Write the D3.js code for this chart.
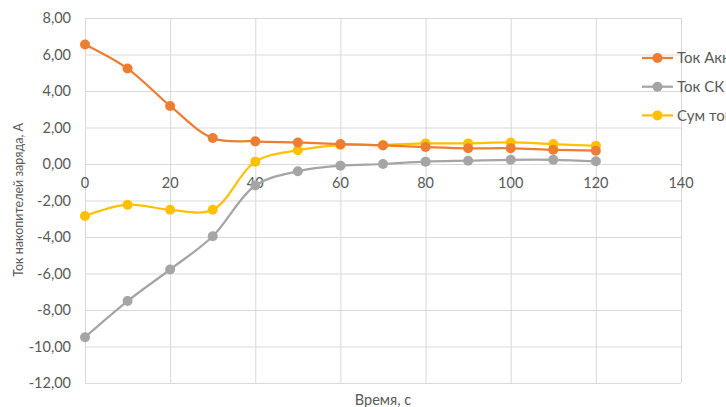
<!DOCTYPE html>
<html><head><meta charset="utf-8">
<script src="https://cdn.jsdelivr.net/npm/d3@7"></script>
<style>body{margin:0;background:#fff;overflow:hidden}svg{display:block}text{font-family:Lato,"Open Sans",sans-serif}</style>
</head><body>
<script>
const times = [0,10,20,30,40,50,60,70,80,90,100,110,120];
const tokAkk = [6.55,5.23,3.18,1.42,1.24,1.18,1.09,1.02,0.93,0.86,0.86,0.78,0.73];
const tokSK  = [-9.49,-7.51,-5.78,-3.96,-1.18,-0.40,-0.09,0.00,0.13,0.18,0.23,0.23,0.15];
const sumTok = [-2.85,-2.23,-2.51,-2.51,0.13,0.76,1.04,1.04,1.13,1.13,1.18,1.09,1.00];
const seriesNames = ["Ток Акк","Ток СК","Сум ток"];
const seriesColors = ["#ED7D31","#A5A5A5","#FFC000"];
const xTicks = [0,20,40,60,80,100,120,140];
const yTicks = [-12,-10,-8,-6,-4,-2,0,2,4,6,8];
const yTitle = "Ток накопителей заряда, А";
const xTitle = "Время,  с";

const W=726,H=407;
const svg=d3.select("body").append("svg").attr("width",W).attr("height",H);
const x=d3.scaleLinear().domain([0,140]).range([85,681]);
const y=d3.scaleLinear().domain([-12,8]).range([383,18]);
const fmt=v=>d3.format(".2f")(v).replace(".",",").replace("−","-");

// grid
svg.append("g").selectAll("line").data(yTicks).join("line")
  .attr("x1",x(0)).attr("x2",x(140)).attr("y1",d=>y(d)+0.5).attr("y2",d=>y(d)+0.5)
  .attr("stroke","#D9D9D9").attr("stroke-width",1);
svg.append("g").selectAll("line").data(xTicks).join("line")
  .attr("y1",y(8)).attr("y2",y(-12)).attr("x1",d=>x(d)+0.5).attr("x2",d=>x(d)+0.5)
  .attr("stroke","#D9D9D9").attr("stroke-width",1);

// y tick labels
svg.append("g").selectAll("text").data(yTicks).join("text")
  .attr("x",71).attr("y",d=>y(d)).attr("dy","0.35em").attr("text-anchor","end")
  .attr("font-size",14.5).attr("fill","#595959").text(fmt);
// x tick labels (axis crosses at 0)
svg.append("g").selectAll("text").data(xTicks).join("text")
  .attr("x",d=>x(d)).attr("y",y(0)+19).attr("dy","0.35em").attr("text-anchor","middle")
  .attr("font-size",14.5).attr("fill","#595959").text(d=>d);

// titles
svg.append("text").attr("transform",`translate(19,200) rotate(-90)`).attr("text-anchor","middle")
  .attr("dy","0.35em").attr("font-size",12.5).attr("fill","#595959").text(yTitle);
svg.append("text").attr("x",383).attr("y",400).attr("dy","0.35em").attr("text-anchor","middle")
  .attr("font-size",14.5).attr("fill","#595959").text(xTitle);

const allSeries=[tokAkk,tokSK,sumTok];
const line=d3.line().x((d,i)=>x(times[i])).y(d=>y(d)).curve(d3.curveCatmullRom.alpha(0.5));
const order=[1,2,0];
order.forEach(k=>{
  const g=svg.append("g");
  g.append("path").attr("d",line(allSeries[k])).attr("fill","none")
    .attr("stroke",seriesColors[k]).attr("stroke-width",2.25);
  g.selectAll("circle").data(allSeries[k]).join("circle")
    .attr("cx",(d,i)=>x(times[i])).attr("cy",d=>y(d)).attr("r",5)
    .attr("fill",seriesColors[k]);
});

// legend
const lg=svg.append("g");
seriesNames.forEach((n,i)=>{
  const ly=58+i*28.7;
  lg.append("line").attr("x1",642).attr("x2",673).attr("y1",ly).attr("y2",ly)
    .attr("stroke",seriesColors[i]).attr("stroke-width",2.25);
  lg.append("circle").attr("cx",657.5).attr("cy",ly).attr("r",5).attr("fill",seriesColors[i]);
  lg.append("text").attr("x",677).attr("y",ly).attr("dy","0.35em").attr("font-size",15)
    .attr("fill","#595959").text(n);
});
</script>
</body></html>
